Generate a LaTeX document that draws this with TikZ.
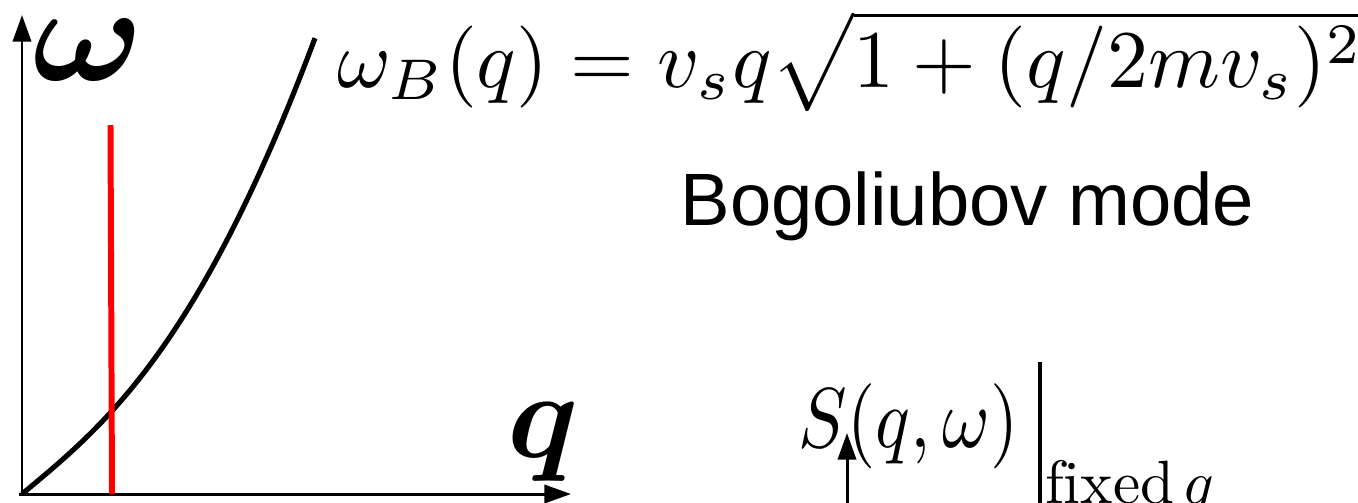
\documentclass[tikz,border=0pt]{standalone}
\usepackage{amsmath}
\usepackage{fontspec}
\newfontfamily\arialfont{Liberation Sans}
\usetikzlibrary{arrows.meta}
\tikzset{
  axis/.style={line width=0.85pt, -{Triangle[length=7.6pt,width=5.2pt]}},
  curve/.style={line width=1.45pt, black},
  redline/.style={line width=1.7pt, red},
  lbl/.style={inner sep=0pt, anchor=base west},
}
\begin{document}
\begin{tikzpicture}[x=0.01cm,y=-0.01cm]
\useasboundingbox (0,0) rectangle (1358,502);
\clip (0,0) rectangle (1358,502);
% axes
\coordinate (O) at (22,494);
\coordinate (Ostart) at (19,494);
\coordinate (ytip) at (22,15);
\coordinate (xtip) at (571,494);
\draw[axis] (O) -- (ytip);
\draw[axis] (Ostart) -- (xtip);
% dispersion curve
\draw[curve] plot[domain=0:293, samples=80, smooth] ({22+\x},{494-0.83*\x*sqrt(1+(\x/184.8)^2)});
% red vertical line
\coordinate (rtop) at (110.5,125);
\coordinate (rbot) at (112,494);
\draw[redline] (rtop) -- (rbot);
% axis labels
\node[inner sep=0pt, anchor=south west, xscale=4.2, yscale=3.9] (wlab) at (30,83) {$\boldsymbol{\omega}$};
\node[lbl, scale=3.5] (qlab) at (505,457) {$\boldsymbol{q}$};
% formula
\node[lbl, scale=2.33] (disp) at (336,87) {$\omega_B(q) = v_s q\sqrt{1+(q/2mv_s)^2}$};
% Bogoliubov mode
\node[lbl] (bog) at (680,225) {\arialfont\fontsize{21.1}{25}\selectfont Bogoliubov mode};
% S(q,w) evaluated at fixed q
\node[lbl, xscale=2.06, yscale=2.42] (sf) at (797,447) {$S(q,\omega)$};
\coordinate (bartop) at (1040,362);
\coordinate (barbot) at (1040,520);
\draw[line width=0.9pt] (bartop) -- (barbot);
\node[lbl, scale=1.74] (fixq) at (1044,503) {$\mathrm{fixed}\,q$};
\coordinate (sbase) at (847,520);
\coordinate (stip) at (847,433);
\draw[axis] (sbase) -- (stip);
\end{tikzpicture}
\end{document}
